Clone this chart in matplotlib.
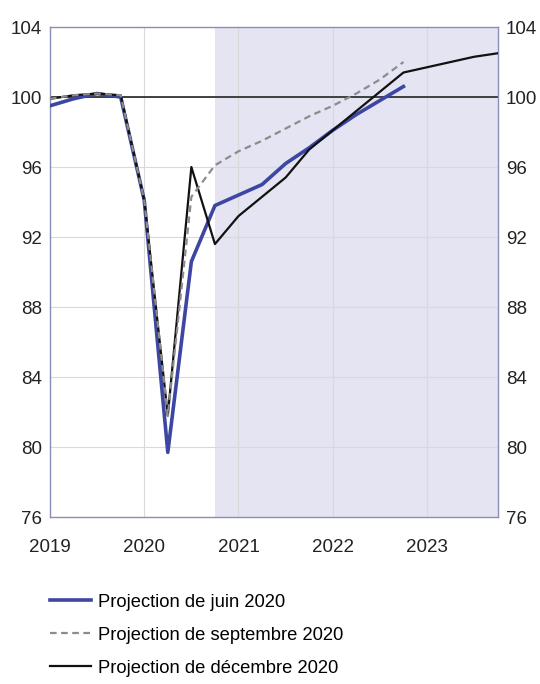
import matplotlib
matplotlib.use("Agg")
import matplotlib.pyplot as plt
import numpy as np

plt.rcParams['font.family'] = ['Liberation Sans Narrow', 'Liberation Sans', 'DejaVu Sans']

quarters = ["2019Q1","2019Q2","2019Q3","2019Q4","2020Q1","2020Q2","2020Q3","2020Q4",
            "2021Q1","2021Q2","2021Q3","2021Q4","2022Q1","2022Q2","2022Q3","2022Q4",
            "2023Q1","2023Q2","2023Q3","2023Q4"]
juin = [99.5, 99.9, 100.2, 100.0, 94.1, 79.7, 90.6, 93.8,
        94.4, 95.0, 96.2, 97.1, 98.1, 99.0, 99.8, 100.6]
septembre = [99.9, 100.1, 100.2, 100.1, 94.1, 81.8, 94.3, 96.1,
             96.9, 97.5, 98.2, 98.9, 99.5, 100.2, 101.0, 102.0]
decembre = [99.9, 100.1, 100.2, 100.1, 94.1, 81.8, 96.0, 91.6,
            93.2, 94.3, 95.4, 97.0, 98.1, 99.2, 100.3, 101.4,
            101.7, 102.0, 102.3, 102.5]
labels = ["Projection de juin 2020", "Projection de septembre 2020",
          "Projection de décembre 2020"]
year_ticks = [2019, 2020, 2021, 2022, 2023]
y_ticks = [76, 80, 84, 88, 92, 96, 100, 104]
shade_start = "2020Q4"

def qpos(q):
    return int(q[:4]) + (int(q[-1]) - 1) / 4.0

x = np.array([qpos(q) for q in quarters])

fig = plt.figure(figsize=(5.4, 6.84), dpi=100)
ax = fig.add_axes([0.0926, 0.244, 0.829, 0.7165])

ax.axvspan(qpos(shade_start), x[-1], color='#e4e4f2', zorder=0, lw=0)
for yv in y_ticks:
    ax.axhline(yv, color='#d9d9d9', lw=0.8, zorder=1)
for xv in year_ticks:
    ax.axvline(xv, color='#d9d9d9', lw=0.8, zorder=1)
ax.axhline(100, color='#333333', lw=1.3, zorder=2)

ax.plot(x[:len(juin)], juin, color='#3d47a3', lw=2.6, zorder=3, label=labels[0])
ax.plot(x[:len(decembre)], decembre, color='#111111', lw=1.6, zorder=4, label=labels[2])
ax.plot(x[:len(septembre)], septembre, color='#8c8c8c', lw=1.6, ls=(0, (3, 2)), zorder=5, label=labels[1])

ax.set_xlim(2019, x[-1])
ax.set_ylim(76, 104)
ax.set_xticks(year_ticks)
ax.set_xticklabels([str(y) for y in year_ticks])
ax.set_yticks(y_ticks)
ax.tick_params(axis='both', length=0, labelsize=13.5, colors='#222222')
ax.tick_params(axis='x', pad=16)
ax.tick_params(axis='y', left=True, right=True, labelleft=True, labelright=True, pad=6)
for s in ax.spines.values():
    s.set_color('#8a8fb5')
    s.set_linewidth(1.0)

h, l = ax.get_legend_handles_labels()
leg = fig.legend([h[0], h[2], h[1]], [labels[0], labels[1], labels[2]],
                 loc='upper left', bbox_to_anchor=(0.079, 0.143), frameon=False,
                 fontsize=13.2, handlelength=2.25, handletextpad=0.35, labelspacing=0.88,
                 borderaxespad=0)

fig.savefig("out.png", dpi=100)
